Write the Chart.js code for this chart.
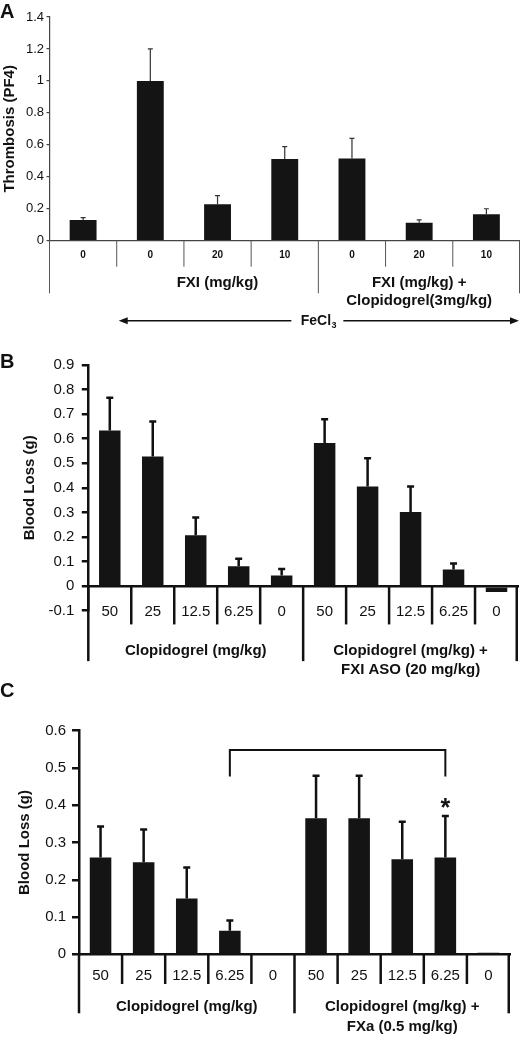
<!DOCTYPE html>
<html>
<head>
<meta charset="utf-8">
<script src="https://cdn.jsdelivr.net/npm/chart.js@4.4.0/dist/chart.umd.min.js"></script>
<style>
  body { margin: 0; background: #fff; }
  #page { position: relative; width: 520px; height: 1038px; }
  .panel { position: absolute; left: 0; width: 520px; }
</style>
</head>
<body>
<div id="page">
  <div class="panel" style="top:0;height:340px"><canvas id="chartA"></canvas></div>
  <div class="panel" style="top:340px;height:340px"><canvas id="chartB"></canvas></div>
  <div class="panel" style="top:680px;height:358px"><canvas id="chartC"></canvas></div>
</div>
<script>
// panel A - thrombosis
const dosesA = ['0', '0', '20', '10', '0', '20', '10'];
const thrombosis = [0.13, 1.0, 0.228, 0.512, 0.514, 0.113, 0.165];
const thrombosisErr = [0.015, 0.2, 0.054, 0.077, 0.127, 0.017, 0.035];
const groupsA = [
  { from: 1, to: 3, lines: ['FXI (mg/kg)'] },
  { from: 4, to: 6, lines: ['FXI (mg/kg) +', 'Clopidogrel(3mg/kg)'] }
];

// panel B - blood loss, FXI ASO
const dosesB = ['50', '25', '12.5', '6.25', '0', '50', '25', '12.5', '6.25', '0'];
const lossB = [0.633, 0.528, 0.207, 0.081, 0.043, 0.583, 0.406, 0.302, 0.068, -0.024];
const lossBErr = [0.134, 0.142, 0.072, 0.03, 0.027, 0.096, 0.114, 0.104, 0.024, 0];
const groupsB = [
  { from: 0, to: 4, lines: ['Clopidogrel (mg/kg)'] },
  { from: 5, to: 9, lines: ['Clopidogrel (mg/kg) +', 'FXI ASO (20 mg/kg)'] }
];

// panel C - blood loss, FXa
const dosesC = ['50', '25', '12.5', '6.25', '0', '50', '25', '12.5', '6.25', '0'];
const lossC = [0.26, 0.247, 0.15, 0.0635, 0.003, 0.365, 0.365, 0.255, 0.26, 0.004];
const lossCErr = [0.083, 0.088, 0.083, 0.027, 0, 0.114, 0.114, 0.101, 0.111, 0];
const groupsC = [
  { from: 0, to: 4, lines: ['Clopidogrel (mg/kg)'] },
  { from: 5, to: 9, lines: ['Clopidogrel (mg/kg) +', 'FXa (0.5 mg/kg)'] }
];
const bracketC = { from: 3, to: 8, top: 0.548, drop: 0.477 };
const starC = { index: 8, value: 0.407 };

const FONT = '"Liberation Sans", Arial, Helvetica, sans-serif';
Chart.defaults.font.family = FONT;
Chart.defaults.color = '#111';

function decor(cfg) {
  return {
    id: 'decor',
    afterDatasetsDraw(chart) {
      const { ctx, scales: { x, y } } = chart;
      const n = chart.data.labels.length;
      const vals = chart.data.datasets[0].data;
      const y0 = y.getPixelForValue(0);
      ctx.save();

      // error bars (upper only)
      ctx.strokeStyle = cfg.errColor;
      ctx.lineWidth = cfg.errWidth;
      chart.getDatasetMeta(0).data.forEach((bar, i) => {
        const e = cfg.err[i];
        if (!e) return;
        const top = y.getPixelForValue(vals[i] + e);
        ctx.beginPath();
        ctx.moveTo(bar.x, bar.y);
        ctx.lineTo(bar.x, top);
        ctx.moveTo(bar.x - cfg.cap / 2, top);
        ctx.lineTo(bar.x + cfg.cap / 2, top);
        ctx.stroke();
      });

      // category separators under the axis
      const c = [];
      for (let i = 0; i < n; i++) c.push(x.getPixelForValue(i));
      const half = (c[1] - c[0]) / 2;
      const edge = k => k === 0 ? c[0] - half : k === n ? c[n - 1] + half : (c[k - 1] + c[k]) / 2;
      ctx.strokeStyle = cfg.lineColor;
      ctx.lineWidth = cfg.lineWidth;
      for (let k = 0; k <= n; k++) {
        let bx = edge(k);
        if (k === n) bx -= cfg.lineWidth / 2;
        const len = cfg.longAt.includes(k) ? cfg.longLen : cfg.shortLen;
        ctx.beginPath();
        ctx.moveTo(bx, y0);
        ctx.lineTo(bx, y0 + len);
        ctx.stroke();
      }

      // group labels
      ctx.fillStyle = '#111';
      ctx.font = 'bold ' + cfg.groupSize + 'px ' + FONT;
      ctx.textAlign = 'center';
      ctx.textBaseline = 'middle';
      cfg.groups.forEach(g => {
        const gx = (edge(g.from) + edge(g.to + 1)) / 2;
        g.lines.forEach((t, j) => ctx.fillText(t, gx, y0 + cfg.groupDy + j * cfg.groupGap));
      });

      // FeCl3 arrow
      if (cfg.arrow) {
        const a = cfg.arrow;
        const ay = y0 + a.dy;
        const x1 = edge(a.from) + 2, x2 = edge(a.to) - 1;
        const tx = edge(a.textAt);
        ctx.strokeStyle = '#111';
        ctx.fillStyle = '#111';
        ctx.lineWidth = 1.5;
        ctx.beginPath();
        ctx.moveTo(x1 + 6, ay); ctx.lineTo(tx - 27, ay);
        ctx.moveTo(tx + 25, ay); ctx.lineTo(x2 - 6, ay);
        ctx.stroke();
        ctx.beginPath();
        ctx.moveTo(x1, ay); ctx.lineTo(x1 + 9, ay - 3.5); ctx.lineTo(x1 + 9, ay + 3.5); ctx.closePath();
        ctx.moveTo(x2, ay); ctx.lineTo(x2 - 9, ay - 3.5); ctx.lineTo(x2 - 9, ay + 3.5); ctx.closePath();
        ctx.fill();
        ctx.font = 'bold 14px ' + FONT;
        ctx.textAlign = 'left';
        const w = ctx.measureText('FeCl').width;
        const sx = tx - (w + 5) / 2;
        ctx.fillText('FeCl', sx, ay);
        ctx.font = 'bold 9px ' + FONT;
        ctx.fillText('3', sx + w + 0.5, ay + 5);
      }

      // significance bracket
      if (cfg.bracket) {
        const b = cfg.bracket;
        const xa = x.getPixelForValue(b.from), xb = x.getPixelForValue(b.to);
        const yt = y.getPixelForValue(b.top), yd = y.getPixelForValue(b.drop);
        ctx.strokeStyle = '#111';
        ctx.lineWidth = 2;
        ctx.beginPath();
        ctx.moveTo(xa, yd); ctx.lineTo(xa, yt); ctx.lineTo(xb, yt); ctx.lineTo(xb, yd);
        ctx.stroke();
      }
      if (cfg.star) {
        ctx.font = 'bold 25px ' + FONT;
        ctx.textAlign = 'center';
        ctx.textBaseline = 'alphabetic';
        const m = ctx.measureText('*');
        const sy = y.getPixelForValue(cfg.star.value);
        ctx.fillText('*', x.getPixelForValue(cfg.star.index), sy + (m.actualBoundingBoxAscent - m.actualBoundingBoxDescent) / 2);
      }

      // panel letter
      ctx.font = 'bold 20px ' + FONT;
      ctx.textAlign = 'left';
      ctx.textBaseline = 'alphabetic';
      ctx.fillText(cfg.letter, 0, cfg.letterY);
      ctx.restore();
    }
  };
}

function makeChart(id, o) {
  return new Chart(document.getElementById(id), {
    type: 'bar',
    data: {
      labels: o.labels,
      datasets: [{
        data: o.values,
        backgroundColor: '#141414',
        borderWidth: 0,
        categoryPercentage: 1,
        barPercentage: o.barPct
      }]
    },
    options: {
      animation: false,
      responsive: true,
      maintainAspectRatio: false,
      layout: { padding: o.padding },
      plugins: { legend: { display: false }, tooltip: { enabled: false } },
      scales: {
        x: {
          position: { y: 0 },
          grid: { display: true, drawOnChartArea: false, drawTicks: false },
          border: { display: true, color: o.lineColor, width: o.lineWidth },
          ticks: {
            autoSkip: false, maxRotation: 0, padding: o.xPad, color: '#111',
            font: { size: o.xSize, weight: o.xWeight }
          }
        },
        y: {
          min: o.min, max: o.max,
          afterFit: s => { s.width = o.yWidth; },
          grid: { drawOnChartArea: false, drawTicks: true, tickLength: o.tickLen, color: o.lineColor, lineWidth: o.lineWidth },
          border: { display: true, color: o.lineColor, width: o.lineWidth },
          ticks: {
            stepSize: o.step, padding: o.yPad, color: '#111',
            font: { size: o.ySize },
            callback: v => String(+Number(v).toFixed(2))
          },
          title: {
            display: true, text: o.title, color: '#111', padding: o.titlePad,
            font: { size: o.titleSize, weight: 'bold' }
          }
        }
      }
    },
    plugins: [decor(o.decor)]
  });
}

makeChart('chartA', {
  labels: dosesA, values: thrombosis, barPct: 0.4,
  padding: { top: 17, bottom: 99.3, left: 0, right: 0 },
  lineColor: '#444', lineWidth: 1.2,
  xPad: 9, xSize: 10, xWeight: 'bold',
  min: 0, max: 1.4, step: 0.2, yWidth: 49.5, tickLen: 3, yPad: 2.5, ySize: 13,
  title: 'Thrombosis (PF4)', titleSize: 15, titlePad: 1,
  decor: {
    err: thrombosisErr, errColor: '#333', errWidth: 1.2, cap: 5,
    lineColor: '#555', lineWidth: 1, longAt: [0, 4, 7], shortLen: 26, longLen: 52.6,
    groups: groupsA, groupSize: 15, groupDy: 42, groupGap: 18.5,
    arrow: { from: 1, to: 7, textAt: 4, dy: 80 },
    letter: 'A', letterY: 18.3
  }
});

makeChart('chartB', {
  labels: dosesB, values: lossB, barPct: 0.5,
  padding: { top: 25, bottom: 69.3, left: 0, right: 2 },
  lineColor: '#111', lineWidth: 2.5,
  xPad: 17, xSize: 15, xWeight: 'normal',
  min: -0.1, max: 0.9, step: 0.1, yWidth: 88.3, tickLen: 6.5, yPad: 7.5, ySize: 15,
  title: 'Blood Loss (g)', titleSize: 15, titlePad: 21,
  decor: {
    err: lossBErr, errColor: '#111', errWidth: 2.5, cap: 7,
    lineColor: '#111', lineWidth: 2.5, longAt: [0, 5, 10], shortLen: 38.3, longLen: 75,
    groups: groupsB, groupSize: 15, groupDy: 65, groupGap: 18.5,
    letter: 'B', letterY: 28.3
  }
});

makeChart('chartC', {
  labels: dosesC, values: lossC, barPct: 0.5,
  padding: { top: 50.7, bottom: 83.7, left: 0, right: 10 },
  lineColor: '#111', lineWidth: 2.5,
  xPad: 13, xSize: 15, xWeight: 'normal',
  min: 0, max: 0.6, step: 0.1, yWidth: 79, tickLen: 7, yPad: 6, ySize: 15,
  title: 'Blood Loss (g)', titleSize: 15, titlePad: 16,
  decor: {
    err: lossCErr, errColor: '#111', errWidth: 2.5, cap: 7,
    lineColor: '#111', lineWidth: 2.5, longAt: [0, 5, 10], shortLen: 29.7, longLen: 59,
    groups: groupsC, groupSize: 15, groupDy: 53, groupGap: 19.4,
    bracket: bracketC, star: starC,
    letter: 'C', letterY: 16.7
  }
});
</script>
</body>
</html>
